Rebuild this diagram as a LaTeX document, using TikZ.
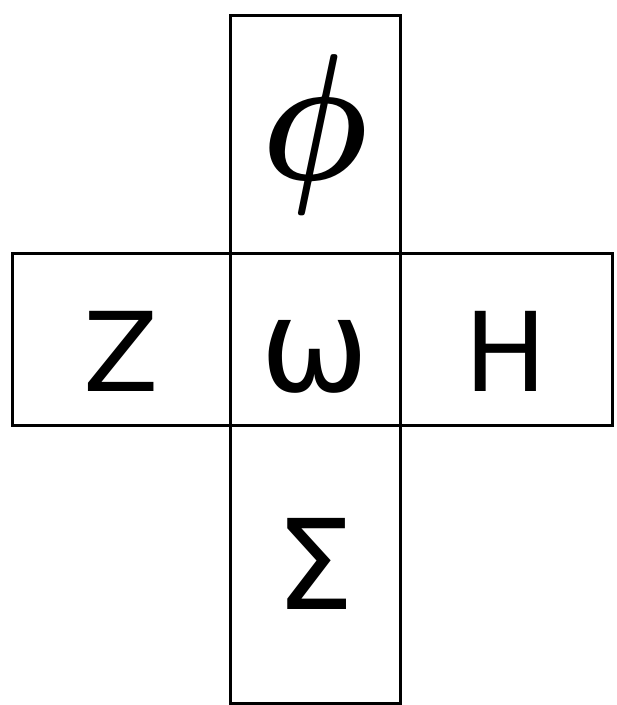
\documentclass[tikz,border=0pt]{standalone}
\usepackage{fontspec}
\setmainfont{DejaVu Sans}
\usetikzlibrary{positioning}
\tikzset{cell/.style={draw,line width=3pt,inner sep=0pt,outer sep=0pt,
    font=\fontsize{110}{110}\selectfont},
  rowcell/.style={cell,minimum height=172pt,text height=105pt,text depth=0pt}}

\begin{document}
\begin{tikzpicture}[x=1pt,y=-1pt]
  \useasboundingbox(0,0)rectangle(617,705);
  % middle row
  \node[rowcell,minimum width=170pt,font=\fontsize{130}{130}\selectfont](omega)at(315,339){ω};
  \node[rowcell,minimum width=218pt,left=0pt of omega](zeta){Z};
  \node[rowcell,minimum width=212pt,right=0pt of omega](eta){H};
  % column
  \node[cell,minimum width=170pt,minimum height=238pt,above=0pt of omega,
    font=\normalsize\boldmath](phi){\scalebox{15}[18]{$\phi$}};
  \node[cell,minimum width=170pt,minimum height=278pt,below=0pt of omega,
    font=\fontsize{125}{125}\selectfont](sigma){Σ};
\end{tikzpicture}
\end{document}
